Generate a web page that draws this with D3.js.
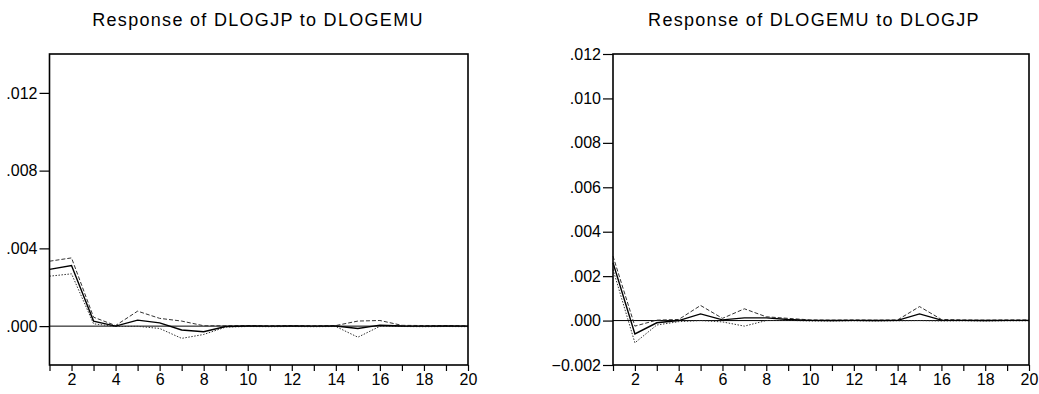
<!DOCTYPE html>
<html>
<head>
<meta charset="utf-8">
<script src="https://cdn.jsdelivr.net/npm/d3@7"></script>
<style>
  body { margin: 0; background: #fff; }
  text { font-family: "Liberation Sans", Arial, sans-serif; fill: #000; }
</style>
</head>
<body>
<div id="chart"></div>
<script>
const periods = d3.range(1, 21);

// Response of DLOGJP to DLOGEMU
const jpResp  = [0.00292, 0.00312, 0.00026, 0.00000, 0.00031, 0.00017, -0.00020, -0.00029, -0.00002, 0.00001,
                 0.00000, 0.00001, 0.00000, 0.00001, -0.00012, 0.00005, 0.00001, 0.00000, 0.00001, 0.00000];
const jpUpper = [0.00334, 0.00351, 0.00046, 0.00003, 0.00077, 0.00040, 0.00026, 0.00002, 0.00002, 0.00003,
                 0.00002, 0.00003, 0.00002, 0.00003, 0.00026, 0.00029, 0.00004, 0.00003, 0.00003, 0.00002];
const jpLower = [0.00257, 0.00269, 0.00012, -0.00002, -0.00001, -0.00012, -0.00063, -0.00043, -0.00005, -0.00002,
                 -0.00003, -0.00002, -0.00003, -0.00002, -0.00057, -0.00001, -0.00002, -0.00003, -0.00002, -0.00003];
const jpTicks = [0, 0.004, 0.008, 0.012];

// Response of DLOGEMU to DLOGJP
const emuResp  = [0.00260, -0.00060, -0.00010, 0.00000, 0.00030, 0.00003, 0.00012, 0.00012, 0.00005, 0.00001,
                  0.00000, 0.00001, 0.00000, 0.00001, 0.00030, 0.00002, 0.00001, 0.00000, 0.00001, 0.00001];
const emuUpper = [0.00290, -0.00025, 0.00002, 0.00005, 0.00068, 0.00010, 0.00053, 0.00017, 0.00010, 0.00003,
                  0.00002, 0.00003, 0.00002, 0.00003, 0.00063, 0.00005, 0.00003, 0.00002, 0.00003, 0.00003];
const emuLower = [0.00230, -0.00100, -0.00020, -0.00005, 0.00000, -0.00006, -0.00025, 0.00000, 0.00001, -0.00002,
                  -0.00002, -0.00001, -0.00002, -0.00001, 0.00000, -0.00002, -0.00001, -0.00002, -0.00001, -0.00001];
const emuTicks = [-0.002, 0, 0.002, 0.004, 0.006, 0.008, 0.010, 0.012];

const width = 1039;
const height = 394;

const svg = d3.select('#chart').append('svg')
  .attr('width', width)
  .attr('height', height);

// EViews style labels: ".004", "-.002"
const fmt = d => d3.format('.3f')(d).replace(/^(-?)0\./, '$1.');

function drawPanel(opts) {
  const x = d3.scaleLinear().domain([1, 20]).range([opts.left, opts.right]);
  const y = d3.scaleLinear().domain(opts.domain).range([365, 54]);

  const g = svg.append('g');

  g.append('text')
    .attr('x', opts.titleX)
    .attr('y', 26)
    .attr('text-anchor', 'middle')
    .attr('font-size', 18)
    .attr('letter-spacing', 1.3)
    .text(opts.title);

  // zero line
  g.append('line')
    .attr('x1', x(1)).attr('x2', x(20))
    .attr('y1', y(0)).attr('y2', y(0))
    .attr('stroke', '#000')
    .attr('stroke-width', 1);

  const line = d3.line()
    .x((d, i) => x(periods[i]))
    .y(d => y(d));

  g.append('path')
    .datum(opts.upper)
    .attr('fill', 'none')
    .attr('stroke', '#333')
    .attr('stroke-width', 1)
    .attr('stroke-dasharray', '4,2')
    .attr('d', line);

  g.append('path')
    .datum(opts.lower)
    .attr('fill', 'none')
    .attr('stroke', '#333')
    .attr('stroke-width', 1)
    .attr('stroke-dasharray', '1.5,1.5')
    .attr('d', line);

  g.append('path')
    .datum(opts.resp)
    .attr('fill', 'none')
    .attr('stroke', '#000')
    .attr('stroke-width', 1.4)
    .attr('d', line);

  // frame
  g.append('rect')
    .attr('x', opts.left)
    .attr('y', 54)
    .attr('width', opts.right - opts.left)
    .attr('height', 365 - 54)
    .attr('fill', 'none')
    .attr('stroke', '#000')
    .attr('stroke-width', 1.6);

  const yAxis = g.append('g')
    .attr('transform', `translate(${opts.left},0)`)
    .call(d3.axisLeft(y).tickValues(opts.ticks).tickFormat(fmt).tickSize(10).tickPadding(2));

  const xAxis = g.append('g')
    .attr('transform', 'translate(0,365)')
    .call(d3.axisBottom(x).tickValues(periods).tickFormat(d => d % 2 === 0 ? d : '').tickSize(6).tickPadding(3));

  [xAxis, yAxis].forEach(a => {
    a.select('.domain').remove();
    a.selectAll('.tick line').attr('stroke', '#000').attr('stroke-width', 1.2);
    a.selectAll('.tick text')
      .attr('fill', '#000')
      .attr('font-size', 16)
      .attr('font-family', '"Liberation Sans", Arial, sans-serif');
  });
}

drawPanel({
  title: 'Response of DLOGJP to DLOGEMU',
  titleX: 258,
  left: 49.5,
  right: 468,
  domain: [-0.002, 0.014],
  ticks: jpTicks,
  resp: jpResp,
  upper: jpUpper,
  lower: jpLower
});

drawPanel({
  title: 'Response of DLOGEMU to DLOGJP',
  titleX: 814,
  left: 613,
  right: 1029,
  domain: [-0.002, 0.012],
  ticks: emuTicks,
  resp: emuResp,
  upper: emuUpper,
  lower: emuLower
});
</script>
</body>
</html>
